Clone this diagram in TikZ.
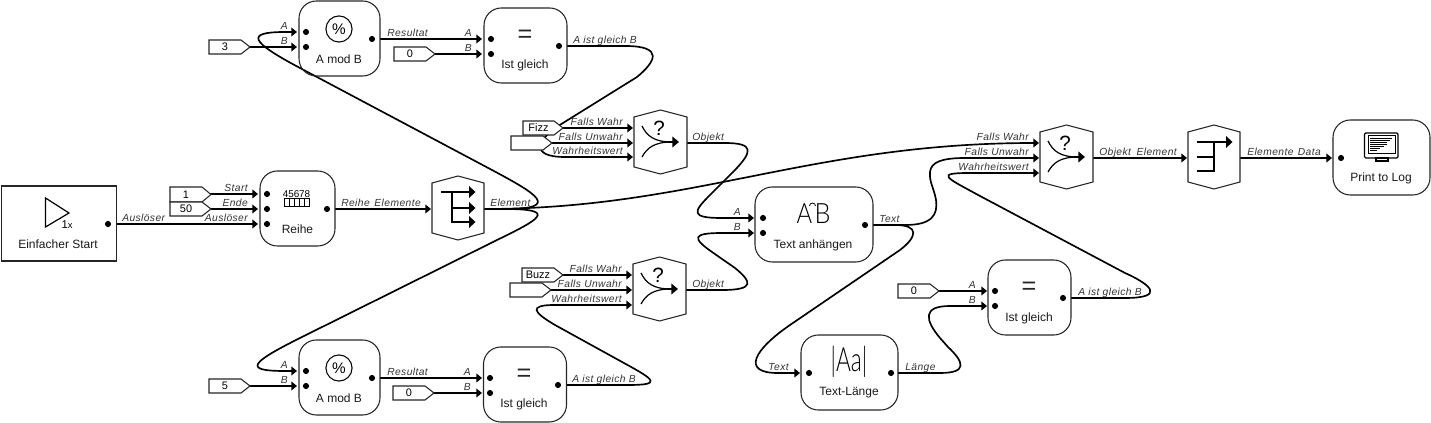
\documentclass[tikz,border=0pt]{standalone}
\usepackage{fontspec}
\setmainfont{Liberation Sans}
\newfontfamily\thinfont{Lato Light}
\newfontfamily\plabfont{Liberation Sans}[LetterSpace=4]
\usetikzlibrary{arrows.meta}
\definecolor{lab}{HTML}{333333}
\newcount\lbc
\tikzset{
  wire/.style={line width=1.25pt,black,-{Triangle[length=4.2pt,width=6.5pt]}},
  outl/.style={draw=black!85,line width=.8pt},
  rblk/.style={outl,rounded corners=13pt,inner sep=0,outer sep=0},
  sblk/.style={outl,inner sep=0,outer sep=0},
  ttl/.style={font=\fontsize{9}{10}\selectfont,text=black!90,inner sep=0},
  cst/.style={font=\fontsize{8.2}{9}\selectfont,text=black,inner sep=0},
  plab/.style={font=\plabfont\fontsize{7.7}{9}\selectfont\itshape,text=lab,inner sep=0},
  pdot/.style={circle,fill=black,inner sep=0,minimum size=4.6pt},
}
\newcommand\lbR[3]{\global\advance\lbc by 1 \node[plab,anchor=base east] (lb\the\lbc) at (#1,#2-2.5) {#3};}
\newcommand\lbL[3]{\global\advance\lbc by 1 \node[plab,anchor=base west] (lb\the\lbc) at (#1,#2-2.5) {#3};}
\newcommand\pdt[3]{\node[pdot] (#1) at (#2,#3) {};}
\newcommand\cblk[6]{\draw[outl,fill=white] (#2,#3) -- (#4-9,#3) -- (#4,{(#3+#5)/2}) -- (#4-9,#5) -- (#2,#5) -- cycle;
  \node[cst] (#1) at ({(#2+#4-9)/2},{(#3+#5)/2}) {#6};}
\newcommand\hexb[3]{\draw[outl,fill=white] ({(#1+#2)/2},#3) -- (#2,#3+7) -- (#2,#3+57) -- ({(#1+#2)/2},#3+64) -- (#1,#3+57) -- (#1,#3+7) -- cycle;}
\newcommand\ifhex[3]{\hexb{#1}{#2}{#3}
  \draw[line width=.9pt] (#1+8,#3+16) .. controls (#1+13,#3+26) and (#1+20,#3+32) .. (#1+38,#3+32);
  \draw[line width=.9pt] (#1+8,#3+47) .. controls (#1+13,#3+38) and (#1+20,#3+32) .. (#1+38,#3+32);
  \draw[line width=1.2pt,-{Triangle[length=5pt,width=8pt]}] (#1+34,#3+32) -- (#1+45,#3+32);
  \node[font=\fontsize{15.5}{16}\selectfont,inner sep=0] (q#1) at (#1+25,#3+18) {?};}
\newcommand\eqsym[2]{\node[font=\fontsize{19}{20}\selectfont,inner sep=0,text=black!85] (eq#1) at (#1,#2+3) {=};}
\newcommand\modsym[2]{\draw[line width=.8pt] (#1,#2) circle (9.8pt);
  \node[font=\fontsize{11.5}{12}\selectfont,inner sep=0] (pc#2) at (#1,#2) {\%};}
\begin{document}
\begin{tikzpicture}[x=.75pt,y=-.75pt]
\useasboundingbox (0,0) rectangle (1431,423);
% ports
\coordinate (sO) at (116,224); \coordinate (rT) at (258,224);
\coordinate (c1O) at (206,194); \coordinate (rS) at (258,194);
\coordinate (c2O) at (206,209); \coordinate (rE) at (258,209);
\coordinate (rO) at (335,209); \coordinate (feI) at (431,209); \coordinate (feO) at (484,209);
\coordinate (c3O) at (245,47);
\coordinate (m1A) at (297,32); \coordinate (m1B) at (297,47); \coordinate (m1O) at (380,39);
\coordinate (e1A) at (482,39); \coordinate (e1B) at (482,54); \coordinate (e1O) at (567,46);
\coordinate (z1O) at (430,54);
\coordinate (i1T) at (633,128); \coordinate (i1F) at (633,143); \coordinate (i1C) at (633,157); \coordinate (i1O) at (687,143);
\coordinate (fzO) at (558,128); \coordinate (em1O) at (547,143);
\coordinate (i2T) at (632,275); \coordinate (i2F) at (632,290); \coordinate (i2C) at (632,305); \coordinate (i2O) at (686,290);
\coordinate (bzO) at (558,275); \coordinate (em2O) at (546,290);
\coordinate (tA) at (754,218); \coordinate (tB) at (754,233); \coordinate (tO) at (873,225);
\coordinate (c5O) at (245,386);
\coordinate (m2A) at (297,371); \coordinate (m2B) at (297,386); \coordinate (m2O) at (380,378);
\coordinate (e2A) at (482,378); \coordinate (e2B) at (482,393); \coordinate (e2O) at (566,385);
\coordinate (z2O) at (430,393);
\coordinate (lI) at (800,373); \coordinate (lO) at (898,373);
\coordinate (e3A) at (987,291); \coordinate (e3B) at (987,306); \coordinate (e3O) at (1071,298);
\coordinate (z3O) at (935,291);
\coordinate (i3T) at (1039,143); \coordinate (i3F) at (1039,158); \coordinate (i3C) at (1039,173); \coordinate (i3O) at (1093,158);
\coordinate (fcI) at (1187,158); \coordinate (fcO) at (1240,158); \coordinate (pI) at (1332,158);
% wires
\draw[wire] (sO) -- (rT);
\draw[wire] (c1O) -- (rS);
\draw[wire] (c2O) -- (rE);
\draw[wire] (rO) -- (feI);
\draw[wire] (c3O) -- (m1B);
\draw[wire] (m1O) -- (e1A);
\draw[wire] (z1O) -- (e1B);
\draw[wire] (fzO) -- (i1T);
\draw[wire] (em1O) -- (i1F);
\draw[wire] (bzO) -- (i2T);
\draw[wire] (em2O) -- (i2F);
\draw[wire] (c5O) -- (m2B);
\draw[wire] (m2O) -- (e2A);
\draw[wire] (z2O) -- (e2B);
\draw[wire] (z3O) -- (e3A);
\draw[wire] (i3O) -- (fcI);
\draw[wire] (fcO) -- (pI);
\draw[wire] (feO) -- (505,209) .. controls (563,209) and (535,193) .. (492,170) -- (300,68) .. controls (250,41.5) and (245,32) .. (285,32) -- (m1A);
\draw[wire] (feO) -- (505,209) .. controls (560,209) and (538,220) .. (495,241) -- (300,338) .. controls (250,363) and (243,371) .. (285,371) -- (m2A);
\draw[wire] (feO) .. controls +(210,0) and +(-230,0) .. (i3T);
\draw[wire] (e1O) -- (625,46) .. controls (665,46) and (655,62) .. (637,77) -- (563,123) .. controls (535,140) and (530,157) .. (565,157) -- (i1C);
\draw[wire] (e2O) -- (628,385) .. controls (662,385) and (655,380) .. (625,363.6) -- (555,325) .. controls (533,312) and (528,305) .. (555,305) -- (i2C);
\draw[wire] (i1O) -- (725,143) .. controls (755,143) and (752,152) .. (735,170) -- (710,195) .. controls (693,212) and (690,218) .. (722,218) -- (tA);
\draw[wire] (i2O) -- (722,290) .. controls (755,290) and (752,282) .. (735,268) -- (712,252) .. controls (692,238) and (692,233) .. (722,233) -- (tB);
\draw[wire] (tO) -- (905,225) .. controls (932,225) and (938,215) .. (936,200) .. controls (934,188) and (929,182) .. (930,172) .. controls (931,162) and (942,158) .. (965,158) -- (i3F);
\draw[wire] (tO) -- (895,225) .. controls (920,225) and (917,237) .. (900,250) -- (790,325) .. controls (755,349) and (740,373) .. (778,373) -- (lI);
\draw[wire] (lO) -- (940,373) .. controls (968,373) and (964,362) .. (948,347) -- (940,338) .. controls (925,320) and (922,306) .. (950,306) -- (e3B);
\draw[wire] (e3O) -- (1125,298) .. controls (1165,298) and (1152,285) .. (1125,273) -- (980,196) .. controls (945,177) and (935,173) .. (970,173) -- (i3C);
% blocks
\node[sblk,minimum width=86.25pt,minimum height=56.25pt] (start) at (59,223.5) {};
\draw[line width=.9pt] (45.5,198) -- (69,213) -- (45.5,227) -- cycle;
\node[font=\fontsize{8.5}{9}\selectfont,inner sep=0] (onex) at (67,225) {1\fontsize{7}{8}\selectfont x};
\node[ttl] (startT) at (58,244) {Einfacher Start};
\pdt{d1}{108}{224}
\node[rblk,minimum width=56.25pt,minimum height=56.25pt] (reihe) at (297.5,208.5) {};
\node[font=\fontsize{7.4}{8}\selectfont,inner sep=0] (rn) at (296.5,194) {45678};
\draw[line width=.7pt] (284,198.5) rectangle (309,206);
\foreach \xx in {289,294,299,304} \draw[line width=.7pt] (\xx,198.5) -- (\xx,206);
\node[ttl] (reiheT) at (297.5,229) {Reihe};
\pdt{d2}{267}{194}\pdt{d3}{267}{209}\pdt{d4}{267}{224}\pdt{d5}{327}{209}
\cblk{c1}{170}{187}{211}{202}{1}
\cblk{c2}{170}{202}{211}{216}{50}
\hexb{432}{484}{176}
\draw[line width=.85pt] (441,192) -- (470,192);
\draw[line width=.85pt] (452,192) -- (452,222) -- (470,222);
\draw[line width=.85pt] (452,208) -- (470,208);
\foreach \yy in {192,208,222} \fill (469,\yy-6) -- (475.5,\yy) -- (469,\yy+6) -- cycle;
% mod top
\node[rblk,minimum width=60.75pt,minimum height=56.25pt] (mod1) at (339.5,38.5) {};
\modsym{339}{29}
\node[ttl] (mod1T) at (339,59) {A mod B};
\pdt{d6}{306}{32}\pdt{d7}{306}{47}\pdt{d8}{372}{39}
\cblk{c3}{209}{40}{250}{54}{3}
\cblk{z1}{394}{47}{435}{61}{0}
\node[rblk,minimum width=62.25pt,minimum height=56.25pt] (eq1) at (525.5,45.5) {};
\eqsym{525}{33}
\node[ttl] (eq1T) at (525,65.5) {Ist gleich};
\pdt{d9}{491}{39}\pdt{d10}{491}{54}\pdt{d11}{559}{46}
% if 1
\ifhex{634}{687}{110}
\cblk{fz}{523}{121}{563}{135}{Fizz}
\cblk{em1}{511}{136}{552}{150}{}
% if 2
\ifhex{633}{686}{257}
\cblk{bz}{522}{268}{563}{282}{Buzz}
\cblk{em2}{510}{283}{551}{297}{}
% mod bottom
\node[rblk,minimum width=60.75pt,minimum height=56.25pt] (mod2) at (339.5,377.5) {};
\modsym{339}{368}
\node[ttl] (mod2T) at (339,398) {A mod B};
\pdt{d12}{306}{371}\pdt{d13}{306}{386}\pdt{d14}{372}{378}
\cblk{c5}{209}{379}{250}{393}{5}
\cblk{z2}{393}{386}{434}{400}{0}
\node[rblk,minimum width=62.25pt,minimum height=56.25pt] (eq2) at (525,384.5) {};
\eqsym{524}{372}
\node[ttl] (eq2T) at (524,404.5) {Ist gleich};
\pdt{d15}{490}{378}\pdt{d16}{490}{393}\pdt{d17}{558}{385}
% text append
\node[rblk,minimum width=88.5pt,minimum height=56.25pt] (app) at (814,224.5) {};
\node[font=\thinfont\fontsize{21}{22}\selectfont,inner sep=0,xscale=.85,transform shape] (appA) at (804.5,214) {A};
\node[font=\thinfont\fontsize{21}{22}\selectfont,inner sep=0,xscale=.9,transform shape] (appB) at (822.5,214) {B};
\draw[line width=.6pt] (809.5,206) arc (180:360:3);
\node[ttl] (appT) at (813,245) {Text anhängen};
\pdt{d18}{763}{218}\pdt{d19}{763}{233}\pdt{d20}{865}{225}
% text length
\node[rblk,minimum width=72.75pt,minimum height=56.25pt] (len) at (849.5,372.5) {};
\node[font=\thinfont\fontsize{25}{26}\selectfont,inner sep=0,xscale=.68,transform shape] (lenI) at (849,362) {|Aa|};
\node[ttl] (lenT) at (849,393) {Text-Länge};
\pdt{d21}{809}{373}\pdt{d22}{891}{373}
% eq3
\cblk{z3}{898}{284}{939}{298}{0}
\node[rblk,minimum width=62.25pt,minimum height=56.25pt] (eq3) at (1029.5,297.5) {};
\eqsym{1029}{285}
\node[ttl] (eq3T) at (1029,318) {Ist gleich};
\pdt{d23}{995}{291}\pdt{d24}{995}{306}\pdt{d25}{1063}{298}
% if 3
\ifhex{1040}{1093}{125}
% collect
\hexb{1188}{1240}{125}
\draw[line width=.85pt] (1197,142) -- (1226,142);
\draw[line width=.85pt] (1197,157) -- (1214,157);
\draw[line width=.85pt] (1197,171) -- (1214,171) -- (1214,142);
\fill (1226,136) -- (1232.5,142) -- (1226,148) -- cycle;
% print
\node[rblk,minimum width=72.75pt,minimum height=56.25pt] (plog) at (1381.5,157.5) {};
\pdt{d26}{1341}{158}
\draw[line width=.9pt,rounded corners=1pt] (1364.5,133) rectangle (1398,158);
\draw[line width=.7pt] (1368,135.5) rectangle (1395,153);
\draw[line width=.8pt] (1376,158) rectangle (1388,161);
\foreach \ya/\xb in {138/1392,140/1390,142/1387,144/1387,146/1384,148/1380,150/1377} \draw[line width=.7pt] (1370,\ya) -- (\xb,\ya);
\node[ttl] (plogT) at (1381,178) {Print to Log};
% labels
\lbL{122}{224}{Auslöser}\lbR{248}{224}{Auslöser}\lbR{248}{194}{Start}\lbR{248}{209}{Ende}
\lbL{341}{209}{Reihe}\lbR{421}{209}{Elemente}\lbL{490}{209}{Element}
\lbR{288}{32}{A}\lbR{288}{47}{B}\lbL{387}{39}{Resultat}\lbR{472}{39}{A}\lbR{472}{54}{B}\lbL{573}{46}{A ist gleich B}
\lbR{623}{128}{Falls Wahr}\lbR{623}{143}{Falls Unwahr}\lbR{623}{157}{Wahrheitswert}\lbL{692}{143}{Objekt}
\lbR{741}{218}{A}\lbR{741}{233}{B}\lbL{879}{225}{Text}
\lbR{1029}{143}{Falls Wahr}\lbR{1029}{158}{Falls Unwahr}\lbR{1029}{173}{Wahrheitswert}
\lbL{1099}{158}{Objekt}\lbR{1177}{158}{Element}\lbL{1247}{158}{Elemente}\lbR{1321}{158}{Data}
\lbR{622}{275}{Falls Wahr}\lbR{622}{290}{Falls Unwahr}\lbR{622}{305}{Wahrheitswert}\lbL{692}{290}{Objekt}
\lbR{288}{371}{A}\lbR{288}{386}{B}\lbL{387}{378}{Resultat}\lbR{471}{378}{A}\lbR{471}{393}{B}\lbL{572}{385}{A ist gleich B}
\lbR{976}{291}{A}\lbR{976}{306}{B}\lbL{1078}{298}{A ist gleich B}
\lbR{789}{373}{Text}\lbL{905}{373}{Länge}
\end{tikzpicture}
\end{document}
